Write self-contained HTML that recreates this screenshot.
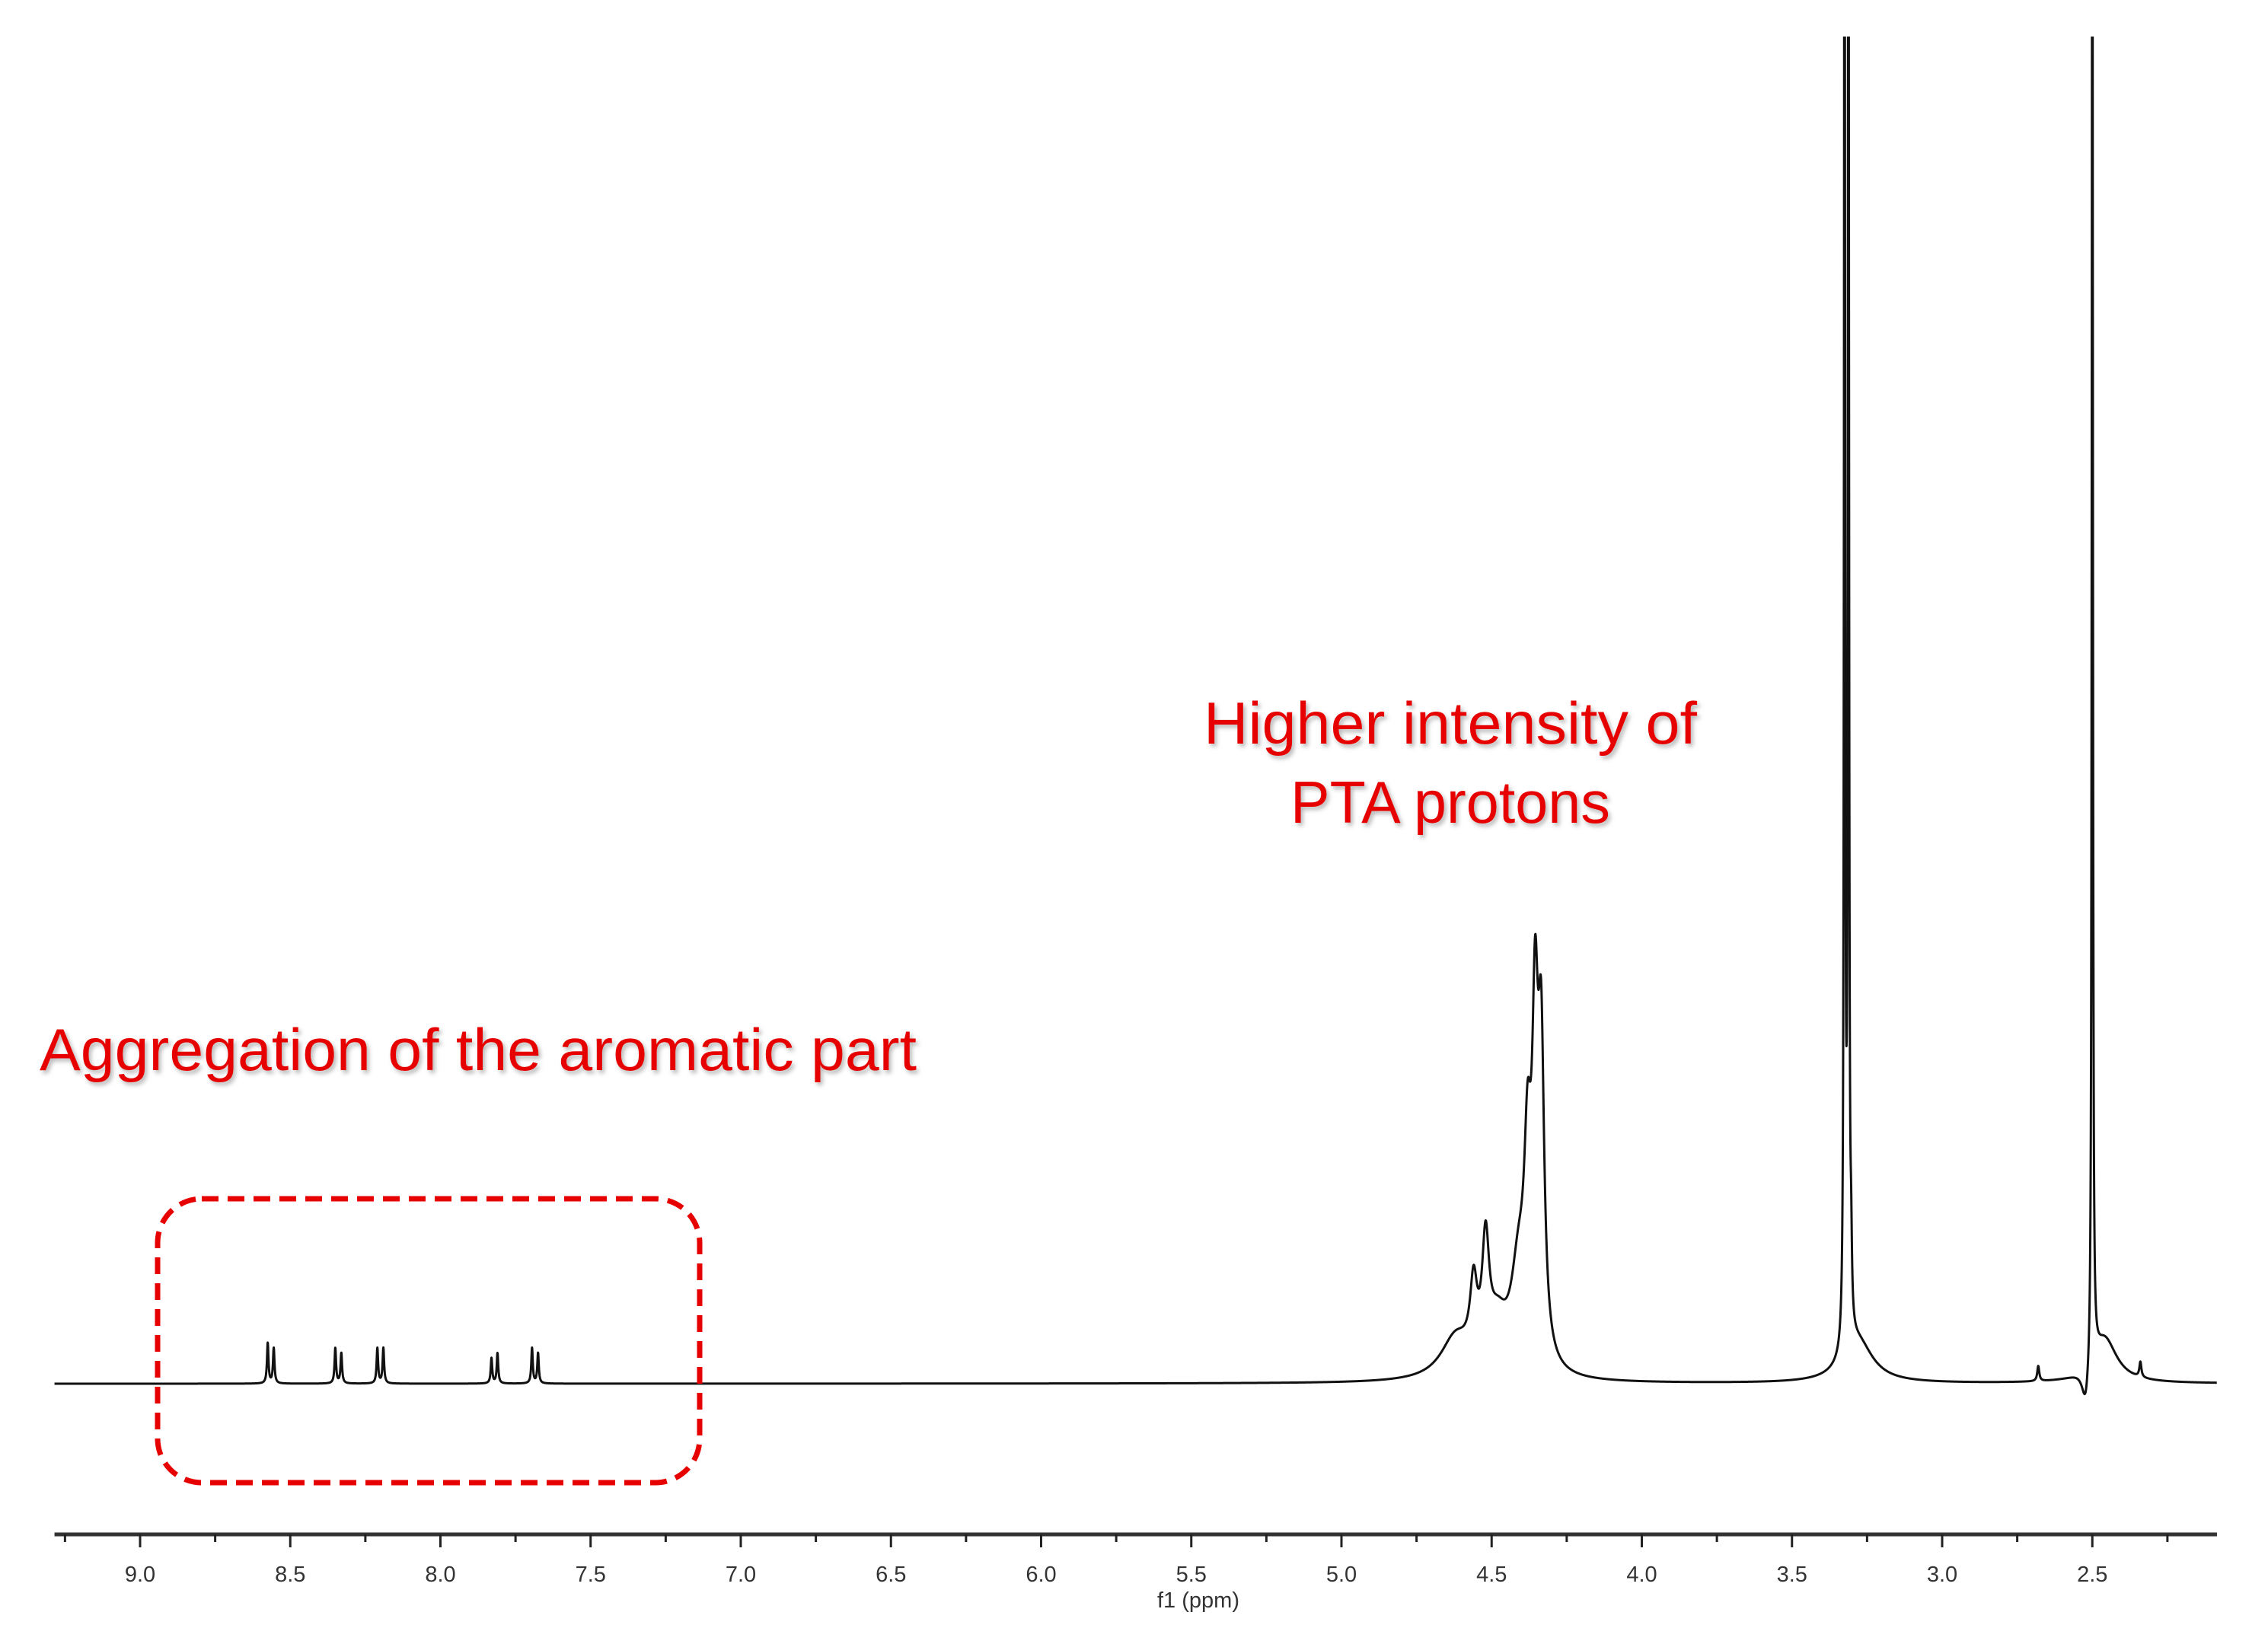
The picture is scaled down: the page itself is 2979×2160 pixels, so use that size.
<!DOCTYPE html>
<html><head><meta charset="utf-8"><style>
html,body{margin:0;padding:0;background:#fff;}
svg{display:block;}
.red{font-family:"Liberation Sans",sans-serif;fill:#e60000;font-size:78px;}
.tick{font-family:"Liberation Sans",sans-serif;font-size:29px;fill:#333;text-anchor:middle;}
</style></head><body>
<svg id="chart" width="2979" height="2160" viewBox="0 0 2979 2160" xmlns="http://www.w3.org/2000/svg">
<defs>
<clipPath id="plotclip"><rect x="60" y="48" width="2890" height="1960"/></clipPath>
<filter id="sh" x="-5%" y="-20%" width="110%" height="140%"><feDropShadow dx="3" dy="4" stdDeviation="3" flood-color="#888" flood-opacity="0.6"/></filter>
</defs>
<g id="axis"></g>
<g id="spec" clip-path="url(#plotclip)"></g>
<rect x="207" y="1575" width="712" height="373" rx="58" ry="58" fill="none" stroke="#e60000" stroke-width="7" stroke-dasharray="22,12"/>
<text class="red" filter="url(#sh)" x="52" y="1406" textLength="1152" lengthAdjust="spacingAndGlyphs">Aggregation of the aromatic part</text>
<text class="red" filter="url(#sh)" x="1581" y="977" textLength="648" lengthAdjust="spacingAndGlyphs">Higher intensity of</text>
<text class="red" filter="url(#sh)" x="1695" y="1081" textLength="420" lengthAdjust="spacingAndGlyphs">PTA protons</text>
<text class="tick" x="1574" y="2112">f1 (ppm)</text>
</svg>
<script>
// Peak table: centre (ppm), height (intensity units), half-width (ppm)
const peakCenters = [8.575,8.555, 8.350,8.330, 8.210,8.190, 7.830,7.810, 7.695,7.675,
  4.62,4.56,4.52,4.48, 4.41,4.38,4.355,4.335, 3.325,3.312,3.303, 3.28, 2.68, 2.500, 2.46, 2.522, 2.34];
const peakHeights = [8,7, 7,6, 7,7, 5,6, 7,6,
  8,14,22,9, 18,34,60,57, 350,350,13, 8, 3, 350, 9, -8, 3];
const peakWidths = [0.003,0.003, 0.003,0.003, 0.003,0.003, 0.003,0.003, 0.003,0.003,
  0.06,0.014,0.014,0.04, 0.03,0.014,0.012,0.012, 0.002,0.002,0.003, 0.06, 0.004, 0.002, 0.05, 0.015, 0.004];
const tickLabels = ["9.0","8.5","8.0","7.5","7.0","6.5","6.0","5.5","5.0","4.5","4.0","3.5","3.0","2.5"];
const tickValues = [9.0,8.5,8.0,7.5,7.0,6.5,6.0,5.5,5.0,4.5,4.0,3.5,3.0,2.5];

const NS="http://www.w3.org/2000/svg";
const ppmLeft=9.285, ppmRight=2.085;
const xScale = p => 184 + (9.0 - p)*394.5;
const baseY=1818, unit=6.64;
const yScale = v => baseY - v*unit;
function intensity(p){
  let s=0;
  for(let i=0;i<peakCenters.length;i++){const d=(p-peakCenters[i])/peakWidths[i];s+=peakHeights[i]/(1+d*d);}
  return s;
}
let d="";
for(let p=ppmLeft;p>=ppmRight;p-=0.0006){
  d+=(d?"L":"M")+xScale(p).toFixed(2)+","+yScale(intensity(p)).toFixed(2);
}
const path=document.createElementNS(NS,"path");
path.setAttribute("d",d);path.setAttribute("fill","none");path.setAttribute("stroke","#111");
path.setAttribute("stroke-width","3");path.setAttribute("stroke-linejoin","round");


document.getElementById("spec").appendChild(path);
const ax=document.getElementById("axis");
const axisY=2016;
const line=document.createElementNS(NS,"line");
line.setAttribute("x1",xScale(ppmLeft));line.setAttribute("x2",xScale(ppmRight));
line.setAttribute("y1",axisY);line.setAttribute("y2",axisY);
line.setAttribute("stroke","#333");line.setAttribute("stroke-width","5");


ax.appendChild(line);
for(let i=0;i<tickValues.length;i++){
  const x=xScale(tickValues[i]);
  const t=document.createElementNS(NS,"line");
  t.setAttribute("x1",x);t.setAttribute("x2",x);t.setAttribute("y1",axisY);t.setAttribute("y2",axisY+17);
  t.setAttribute("stroke","#222");t.setAttribute("stroke-width","3");
  
  
  ax.appendChild(t);
  const m=document.createElementNS(NS,"line");
  const xm=xScale(tickValues[i]+0.25);
  m.setAttribute("x1",xm);m.setAttribute("x2",xm);m.setAttribute("y1",axisY);m.setAttribute("y2",axisY+10);
  m.setAttribute("stroke","#222");m.setAttribute("stroke-width","3");
  
  
  ax.appendChild(m);
  const lb=document.createElementNS(NS,"text");
  lb.setAttribute("x",x);lb.setAttribute("y",axisY+62);lb.setAttribute("class","tick");
  lb.textContent=tickLabels[i];
  
  
  ax.appendChild(lb);
}
const mEnd=document.createElementNS(NS,"line");
const xe=xScale(2.25);
mEnd.setAttribute("x1",xe);mEnd.setAttribute("x2",xe);mEnd.setAttribute("y1",axisY);mEnd.setAttribute("y2",axisY+10);
mEnd.setAttribute("stroke","#222");mEnd.setAttribute("stroke-width","3");


ax.appendChild(mEnd);
</script>
</body></html>
